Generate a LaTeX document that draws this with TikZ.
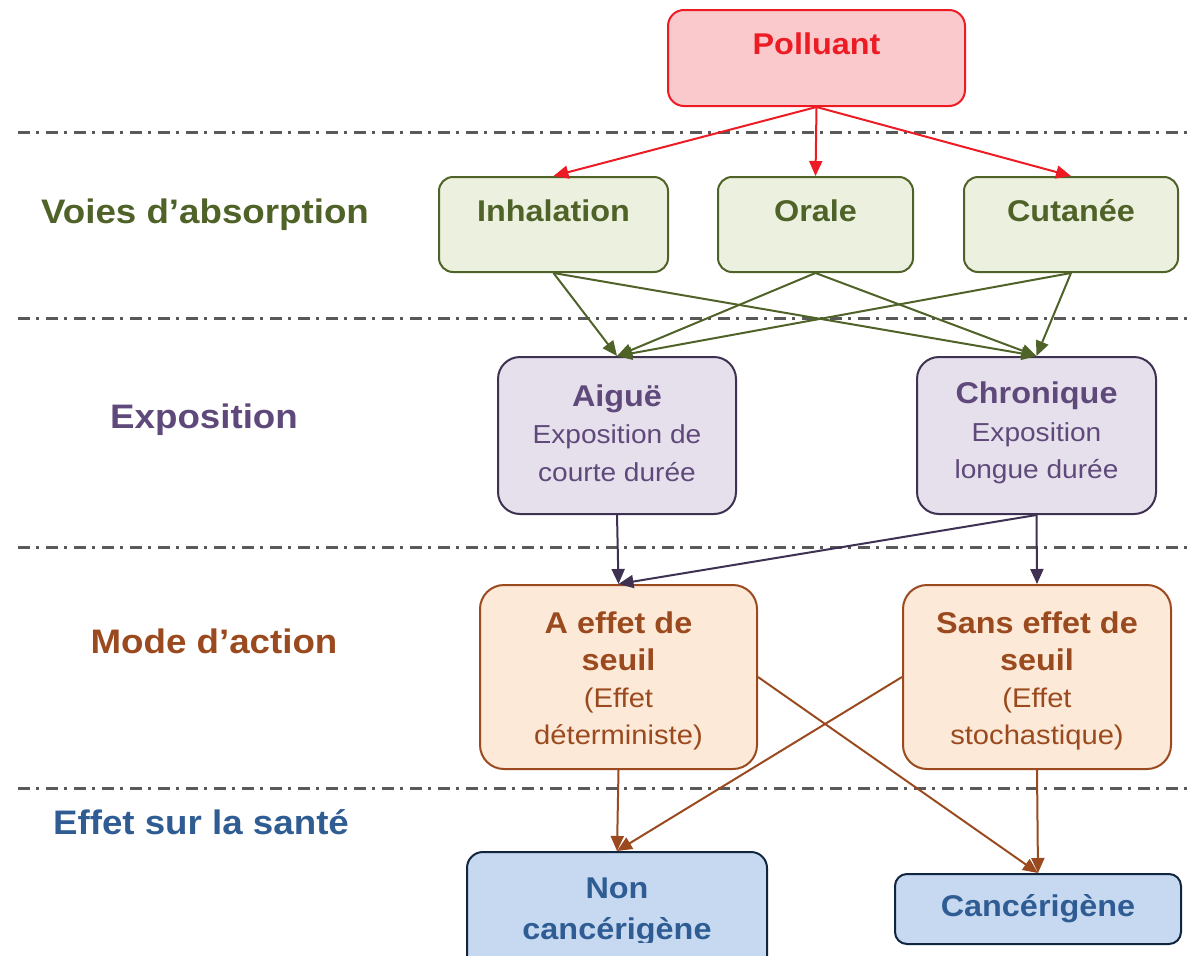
\documentclass[tikz,border=0pt]{standalone}
\usepackage{fontspec}
\setmainfont{Liberation Sans}[FakeStretch=1.08]
\usetikzlibrary{arrows.meta}
\definecolor{cred}{HTML}{ED1C24}
\definecolor{cpink}{HTML}{F9C9CC}
\definecolor{cgreen}{HTML}{4F6228}
\definecolor{cgreenf}{HTML}{EBF1DE}
\definecolor{cpurp}{HTML}{5F497A}
\definecolor{cpurpd}{HTML}{3F3151}
\definecolor{cpurpf}{HTML}{E5E0EC}
\definecolor{cbrown}{HTML}{9A4A1E}
\definecolor{corangef}{HTML}{FCE9D7}
\definecolor{cblue}{HTML}{2F5D93}
\definecolor{cblued}{HTML}{10253F}
\definecolor{cbluef}{HTML}{C6D9F1}
\definecolor{cgrey}{HTML}{595959}
\begin{document}
\begin{tikzpicture}[x=1pt,y=-1pt,
  box/.style={draw, rounded corners=16pt, line width=2pt, inner sep=0pt, align=center},
  cat/.style={font=\fontsize{34}{40}\selectfont\bfseries},
  ttl/.style={font=\fontsize{30}{36}\selectfont\bfseries},
  sep/.style={draw=cgrey, line width=3pt, dash pattern=on 12pt off 6pt on 3pt off 7pt},
  arr/.style={-{Triangle[length=15pt,width=13pt]}, line width=2pt}]
\clip (0,0) rectangle (1189,956);
\useasboundingbox (0,0) rectangle (1189,956);

% separators
\coordinate (s1a) at (18,132); \coordinate (s1b) at (1189,132);
\coordinate (s2a) at (18,318); \coordinate (s2b) at (1189,318);
\coordinate (s3a) at (18,547); \coordinate (s3b) at (1189,547);
\coordinate (s4a) at (18,788); \coordinate (s4b) at (1189,788);
\draw[sep] (s1a) -- (s1b);
\draw[sep] (s2a) -- (s2b);
\draw[sep] (s3a) -- (s3b);
\draw[sep] (s4a) -- (s4b);

% category labels
\node[cat, text=cgreen] (lvoies) at (205,215) {Voies d’absorption};
\node[cat, text=cpurp] (lexpo) at (204,420) {Exposition};
\node[cat, text=cbrown] (lmode) at (214,641) {Mode d’action};
\node[cat, text=cblue] (leffet) at (201,822) {Effet sur la santé};

% polluant
\node[box, draw=cred, fill=cpink, minimum width=297pt, minimum height=96pt] (poll) at (816.5,58) {};
\node[ttl, text=cred] (pollt) at (816.5,44) {Polluant};

% voies
\node[box, draw=cgreen, fill=cgreenf, rounded corners=14pt, minimum width=229pt, minimum height=95pt] (inh) at (553.5,224.5) {};
\node[box, draw=cgreen, fill=cgreenf, rounded corners=14pt, minimum width=195pt, minimum height=95pt] (ora) at (815.5,224.5) {};
\node[box, draw=cgreen, fill=cgreenf, rounded corners=14pt, minimum width=214pt, minimum height=95pt] (cut) at (1071,224.5) {};
\node[ttl, text=cgreen] (inht) at (553.5,211) {Inhalation};
\node[ttl, text=cgreen] (orat) at (815.5,211) {Orale};
\node[ttl, text=cgreen] (cutt) at (1071,211) {Cutanée};

% exposition
\node[box, draw=cpurpd, fill=cpurpf, rounded corners=22pt, minimum width=238pt, minimum height=157pt] (aig) at (617,435.5) {};
\node[box, draw=cpurpd, fill=cpurpf, rounded corners=22pt, minimum width=239pt, minimum height=157pt] (chr) at (1036.5,435.5) {};
\node[align=center, text=cpurp, font=\fontsize{26}{37.5}\selectfont] (aigt) at (617,433)
  {{\fontsize{30}{40}\selectfont\bfseries Aiguë}\\ Exposition de\\ courte durée};
\node[align=center, text=cpurp, font=\fontsize{26}{37.5}\selectfont] (chrt) at (1036.5,433)
  {{\fontsize{30}{40}\selectfont\bfseries Chronique}\\ Exposition\\ longue durée};

% mode d'action
\node[box, draw=cbrown, fill=corangef, rounded corners=24pt, minimum width=277pt, minimum height=184pt] (aef) at (618.5,677) {};
\node[box, draw=cbrown, fill=corangef, rounded corners=24pt, minimum width=268pt, minimum height=184pt] (sef) at (1037,677) {};
\node[align=center, text=cbrown, font=\fontsize{27}{37}\selectfont] (aeft) at (618.5,681)
  {{\fontsize{30}{37}\selectfont\bfseries A effet de}\\ {\fontsize{30}{37}\selectfont\bfseries seuil}\\ (Effet\\ déterministe)};
\node[align=center, text=cbrown, font=\fontsize{27}{37}\selectfont] (seft) at (1037,681)
  {{\fontsize{30}{37}\selectfont\bfseries Sans effet de}\\ {\fontsize{30}{37}\selectfont\bfseries seuil}\\ (Effet\\ stochastique)};

% effets
\node[box, draw=cblued, fill=cbluef, rounded corners=16pt, minimum width=300pt, minimum height=122pt] (non) at (617,913) {};
\node[box, draw=cblued, fill=cbluef, rounded corners=12pt, minimum width=286pt, minimum height=70pt, text=cblue,
  font=\fontsize{30}{36}\selectfont\bfseries] (can) at (1038,909) {Cancérigène};
\begin{scope}
\clip (0,0) rectangle (1189,942);
\node[ttl, text=cblue, align=center, font=\fontsize{30}{41}\selectfont\bfseries] (nont) at (617,912) {Non\\ cancérigène};
\end{scope}

% arrows
\draw[arr, cred] (poll.south) -- (inh.north);
\draw[arr, cred] (poll.south) -- (ora.north);
\draw[arr, cred] (poll.south) -- (cut.north);

\draw[arr, cgreen] (inh.south) -- (aig.north);
\draw[arr, cgreen] (inh.south) -- (chr.north);
\draw[arr, cgreen] (ora.south) -- (aig.north);
\draw[arr, cgreen] (ora.south) -- (chr.north);
\draw[arr, cgreen] (cut.south) -- (aig.north);
\draw[arr, cgreen] (cut.south) -- (chr.north);

\draw[arr, cpurpd] (aig.south) -- (aef.north);
\draw[arr, cpurpd] (chr.south) -- (aef.north);
\draw[arr, cpurpd] (chr.south) -- (sef.north);

\draw[arr, cbrown] (aef.south) -- (non.north);
\draw[arr, cbrown] (aef.east) -- (can.north);
\draw[arr, cbrown] (sef.west) -- (non.north);
\draw[arr, cbrown] (sef.south) -- (can.north);
\end{tikzpicture}
\end{document}
